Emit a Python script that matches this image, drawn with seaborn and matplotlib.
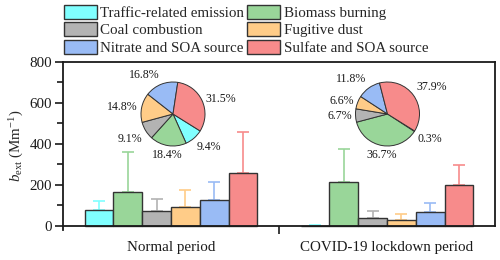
import numpy as np
import pandas as pd
import matplotlib
matplotlib.use("Agg")
import matplotlib.pyplot as plt
import matplotlib.patches as mpatches
import seaborn as sns

# ---- data ----
periods = ["Normal period", "COVID-19 lockdown period"]
sources = ["Traffic-related emission", "Biomass burning", "Coal combustion",
           "Fugitive dust", "Nitrate and SOA source", "Sulfate and SOA source"]
normal_vals = [78, 167, 75, 91, 128, 257]
normal_err = [45, 195, 57, 85, 88, 203]
covid_vals = [1, 213, 37, 29, 70, 200]
covid_err = [2, 162, 36, 28, 44, 99]
normal_pct = [9.4, 18.4, 9.1, 14.8, 16.8, 31.5]
covid_pct = [0.3, 36.7, 6.7, 6.6, 11.8, 37.9]
yticks = [0, 200, 400, 600, 800]

colors = ["#80FFFF", "#99D699", "#B3B3B3", "#FFCC88", "#99BBF5", "#F78B8B"]

sns.set_theme(style="ticks")
plt.rcParams["font.family"] = ["Liberation Serif", "DejaVu Serif"]
plt.rcParams["mathtext.fontset"] = "custom"
plt.rcParams["mathtext.rm"] = "Liberation Serif"
plt.rcParams["mathtext.it"] = "Liberation Serif:italic"

df = pd.DataFrame({
    "period": np.repeat(periods, len(sources)),
    "source": sources * 2,
    "value": normal_vals + covid_vals,
})
errs = [normal_err, covid_err]

fig = plt.figure(figsize=(5, 2.6), dpi=100)
ax = fig.add_axes([0.126, 0.117, 0.864, 0.645])

sns.barplot(data=df, x="period", y="value", hue="source", hue_order=sources,
            palette=colors, edgecolor="#333333", linewidth=1.0, errorbar=None,
            saturation=1, width=0.8, ax=ax, legend=False)

bars = [p for p in ax.patches if isinstance(p, mpatches.Rectangle)]
for j in range(len(periods)):
    grp = sorted([b for b in bars if abs(b.get_x() + b.get_width() / 2 - j) < 0.45],
                 key=lambda b: b.get_x())
    for i, bar in enumerate(grp):
        xc = bar.get_x() + bar.get_width() / 2
        h = bar.get_height()
        ax.errorbar(xc, h, yerr=[[0], [errs[j][i]]], fmt="none",
                    ecolor=colors[i], elinewidth=1.2, capsize=4, capthick=1.2,
                    zorder=0)

handles = [mpatches.Patch(facecolor=c, edgecolor="#333333", linewidth=1.0)
           for c in colors]
order = [0, 2, 4, 1, 3, 5]
leg = fig.legend([handles[k] for k in order], [sources[k] for k in order],
                 ncol=2, loc="upper left", bbox_to_anchor=(0.118, 1.0),
                 frameon=False, fontsize=10.8, handlelength=2.2,
                 handleheight=1.1, handletextpad=0.25, columnspacing=0.2,
                 labelspacing=0.15, borderaxespad=0.1, borderpad=0.2)

ax.set_xlim(-0.5, 1.5)
ax.set_ylim(-18, 800)
ax.set_yticks(yticks)
ax.set_yticks([100, 300, 500, 700], minor=True)
ax.set_xticks([0.5], minor=True)
ax.tick_params(axis="x", which="major", length=0, pad=11, labelsize=10.8,
               colors="#1a1a1a")
ax.tick_params(axis="x", which="minor", length=6, width=1.2, direction="out",
               colors="#1a1a1a")
ax.tick_params(axis="y", which="major", length=6, width=1.2, direction="out",
               labelsize=10.8, pad=2, colors="#1a1a1a")
ax.tick_params(axis="y", which="minor", length=4, width=1.2, direction="out",
               colors="#1a1a1a")
for s in ax.spines.values():
    s.set_visible(True)
    s.set_linewidth(1.3)
    s.set_color("#1a1a1a")
ax.spines["bottom"].set_position(("data", 0))
ax.spines["right"].set_bounds(0, 800)
ax.set_xlabel("")
ax.set_ylabel(r"$b_{\mathrm{ext}}$ (Mm$^{\mathrm{-1}}$)", fontsize=10.8,
              labelpad=2)


def draw_pie(cx, cy, pcts):
    r = 32
    w, h = 2 * r / 500, 2 * r / 260
    pax = fig.add_axes([cx / 500 - w / 2, 1 - cy / 260 - h / 2, w, h])
    wedges, _ = pax.pie(pcts, colors=colors, startangle=-32, counterclock=False,
                        wedgeprops=dict(edgecolor="#333333", linewidth=0.7))
    pax.set_xlim(-1, 1)
    pax.set_ylim(-1, 1)
    pax.set_aspect("auto")
    for wdg, p in zip(wedges, pcts):
        ang = np.deg2rad((wdg.theta1 + wdg.theta2) / 2)
        c, s = np.cos(ang), np.sin(ang)
        ha = "left" if c > 0.3 else ("right" if c < -0.3 else "center")
        va = "bottom" if s > 0.5 else ("top" if s < -0.5 else "center")
        pax.text(1.12 * c, 1.12 * s, f"{p:.1f}%", ha=ha, va=va, fontsize=8.6,
                 color="#1a1a1a", clip_on=False)


draw_pie(173, 114, normal_pct)
draw_pie(387.5, 114, covid_pct)

fig.savefig("out.png", dpi=100)
